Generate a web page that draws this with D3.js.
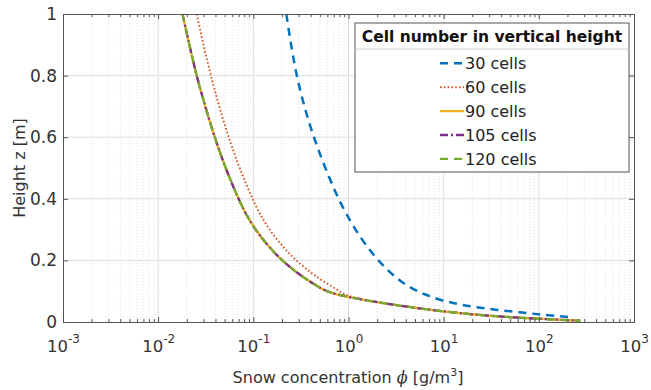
<!DOCTYPE html>
<html>
<head>
<meta charset="utf-8">
<script src="https://cdn.jsdelivr.net/npm/d3@7"></script>
<style>
  html, body { margin: 0; padding: 0; background: #fff; }
  svg { display: block; font-family: "DejaVu Sans", sans-serif; }
</style>
</head>
<body>
<svg id="chart" width="651" height="390"></svg>
<script>
// ---- data ----
const heights   = [1.0, 0.9, 0.8, 0.7, 0.6, 0.5, 0.45, 0.4, 0.35, 0.3, 0.25, 0.2, 0.15, 0.12, 0.1, 0.09, 0.08, 0.07, 0.06, 0.05, 0.04, 0.03, 0.02, 0.015, 0.01, 0.004];
const heights30 = [1.0, 0.9, 0.8, 0.7, 0.6, 0.5, 0.45, 0.4, 0.35, 0.3, 0.25, 0.2, 0.15, 0.12, 0.1, 0.09, 0.08, 0.07, 0.06, 0.05, 0.04, 0.03, 0.02, 0.015];
const phi30  = [0.2223, 0.2495, 0.2864, 0.3443, 0.4335, 0.5715, 0.6676, 0.7889, 0.9539, 1.187, 1.529, 2.064, 3.017, 4.061, 5.353, 6.319, 7.686, 9.784, 13.35, 20.22, 35.14, 70.08, 146.5, 226.8];
const phi60  = [0.02547, 0.02992, 0.03589, 0.04385, 0.05521, 0.07194, 0.08356, 0.09817, 0.1180, 0.1486, 0.1982, 0.2831, 0.4487, 0.631, 0.8035, 0.912, 1.148, 1.603, 2.483, 4.121, 7.161, 13.65, 31.99, 54.33, 110.9, 272.3];
const phi90  = [0.01799, 0.02128, 0.02541, 0.03126, 0.03936, 0.05129, 0.05957, 0.06998, 0.08414, 0.1059, 0.1413, 0.2018, 0.3199, 0.4519, 0.5957, 0.7499, 1.059, 1.567, 2.483, 4.121, 7.161, 13.65, 31.99, 54.33, 110.9, 272.3];
const phi105 = [0.01799, 0.02128, 0.02541, 0.03126, 0.03936, 0.05129, 0.05957, 0.06998, 0.08414, 0.1059, 0.1413, 0.2018, 0.3199, 0.4519, 0.5957, 0.7499, 1.059, 1.567, 2.483, 4.121, 7.161, 13.65, 31.99, 54.33, 110.9, 272.3];
const phi120 = [0.01799, 0.02128, 0.02541, 0.03126, 0.03936, 0.05129, 0.05957, 0.06998, 0.08414, 0.1059, 0.1413, 0.2018, 0.3199, 0.4519, 0.5957, 0.7499, 1.059, 1.567, 2.483, 4.121, 7.161, 13.65, 31.99, 54.33, 110.9, 272.3];
const seriesNames = ["30 cells", "60 cells", "90 cells", "105 cells", "120 cells"];
const xTickExponents = [-3, -2, -1, 0, 1, 2, 3];
const yTicks = [0, 0.2, 0.4, 0.6, 0.8, 1];
const legendTitle = "Cell number in vertical height";

// ---- layout ----
const svg = d3.select("#chart");
const m = { left: 63, right: 634, top: 14, bottom: 322 };
const x = d3.scaleLog().domain([1e-3, 1e3]).range([m.left, m.right]);
const y = d3.scaleLinear().domain([0, 1]).range([m.bottom, m.top]);

const series = [
  { name: seriesNames[0], z: heights30, v: phi30,  color: "#0072BD", dash: "8,6",       width: 2.5 },
  { name: seriesNames[1], z: heights,   v: phi60,  color: "#D95319", dash: "1.6,2.2",   width: 1.9 },
  { name: seriesNames[2], z: heights,   v: phi90,  color: "#EDB120", dash: null,        width: 2.3 },
  { name: seriesNames[3], z: heights,   v: phi105, color: "#7E2F8E", dash: "8,3,2,3",   width: 2.3 },
  { name: seriesNames[4], z: heights,   v: phi120, color: "#77AC30", dash: "8,6",       width: 2.3 }
];

// ---- grid ----
const grid = svg.append("g");
const minorVals = [];
for (let e = -3; e < 3; e++) for (let k = 2; k <= 9; k++) minorVals.push(k * Math.pow(10, e));
grid.selectAll("line.minor").data(minorVals).enter().append("line")
  .attr("x1", d => x(d)).attr("x2", d => x(d)).attr("y1", m.top).attr("y2", m.bottom)
  .attr("stroke", "#e2e2e2").attr("stroke-width", 1).attr("stroke-dasharray", "1,2");
grid.selectAll("line.vmaj").data(xTickExponents.slice(1, -1)).enter().append("line")
  .attr("x1", d => x(Math.pow(10, d))).attr("x2", d => x(Math.pow(10, d)))
  .attr("y1", m.top).attr("y2", m.bottom).attr("stroke", "#dedede").attr("stroke-width", 1);
grid.selectAll("line.hmaj").data(yTicks.slice(1, -1)).enter().append("line")
  .attr("x1", m.left).attr("x2", m.right).attr("y1", d => y(d)).attr("y2", d => y(d))
  .attr("stroke", "#dedede").attr("stroke-width", 1);

// ---- lines ----
svg.append("defs").append("clipPath").attr("id", "clip")
  .append("rect").attr("x", m.left).attr("y", m.top - 2).attr("width", m.right - m.left).attr("height", m.bottom - m.top + 2);
const lineGen = d3.line().x(d => x(d[0])).y(d => y(d[1])).curve(d3.curveMonotoneY);
const lg = svg.append("g").attr("clip-path", "url(#clip)");
series.forEach(s => {
  const pts = s.v.map((v, i) => [v, s.z[i]]);
  lg.append("path").datum(pts).attr("d", lineGen)
    .attr("fill", "none").attr("stroke", s.color).attr("stroke-width", s.width)
    .attr("stroke-dasharray", s.dash);
});

// ---- axes ----
const axisColor = "#555";
const majorX = xTickExponents.map(e => Math.pow(10, e));
const gx = svg.append("g").attr("transform", `translate(0,${m.bottom})`)
  .call(d3.axisBottom(x).tickValues(majorX).tickSize(-5).tickFormat(""));
svg.append("g").attr("transform", `translate(0,${m.top})`)
  .call(d3.axisTop(x).tickValues(majorX).tickSize(-5).tickFormat(""));
svg.append("g").attr("transform", `translate(0,${m.bottom})`)
  .call(d3.axisBottom(x).tickValues(minorVals).tickSize(-3).tickFormat(""));
svg.append("g").attr("transform", `translate(0,${m.top})`)
  .call(d3.axisTop(x).tickValues(minorVals).tickSize(-3).tickFormat(""));
const gy = svg.append("g").attr("transform", `translate(${m.left},0)`)
  .call(d3.axisLeft(y).tickValues(yTicks).tickSize(-5).tickFormat(d3.format("~g")).tickPadding(6));
svg.append("g").attr("transform", `translate(${m.right},0)`)
  .call(d3.axisRight(y).tickValues(yTicks).tickSize(-5).tickFormat(""));
svg.selectAll(".domain").attr("stroke", axisColor).attr("stroke-width", 1);
svg.selectAll(".tick line").attr("stroke", axisColor);
gy.selectAll("text").attr("font-size", 17).attr("fill", "#333").attr("font-family", "DejaVu Sans, sans-serif");

// x tick labels as 10^e
gx.selectAll(".tick").each(function(d) {
  const e = Math.round(Math.log10(d));
  const t = d3.select(this).append("text").attr("y", 30).attr("fill", "#333")
    .attr("text-anchor", "middle").attr("font-size", 16.5).attr("font-family", "DejaVu Sans, sans-serif");
  t.append("tspan").text("10");
  t.append("tspan").attr("dy", -9).attr("font-size", 12).text(String(e));
});

// axis labels
const xl = svg.append("text").attr("x", 348).attr("y", 383).attr("text-anchor", "middle")
  .attr("font-size", 16).attr("fill", "#333");
xl.append("tspan").text("Snow concentration ");
xl.append("tspan").attr("font-style", "italic").attr("font-family", "DejaVu Serif, serif").text("ϕ");
xl.append("tspan").text(" [g/m");
xl.append("tspan").attr("dy", -7).attr("font-size", 11).text("3");
xl.append("tspan").attr("dy", 7).text("]");
svg.append("text").attr("transform", "translate(25,168) rotate(-90)").attr("text-anchor", "middle")
  .attr("font-size", 16).attr("fill", "#333").text("Height z [m]");

// ---- legend ----
const L = { x: 355, y: 23, w: 274, h: 149 };
const leg = svg.append("g");
leg.append("rect").attr("x", L.x).attr("y", L.y).attr("width", L.w).attr("height", L.h)
  .attr("fill", "#fff").attr("stroke", "#555").attr("stroke-width", 1);
leg.append("text").attr("x", L.x + L.w / 2).attr("y", 41.5).attr("text-anchor", "middle")
  .attr("font-size", 15.5).attr("font-weight", "bold").attr("fill", "#111").text(legendTitle);
leg.append("line").attr("x1", L.x).attr("x2", L.x + L.w).attr("y1", 49).attr("y2", 49)
  .attr("stroke", "#d0d0d0").attr("stroke-width", 1);
series.forEach((s, i) => {
  const base = 69.3 + i * 23.9;
  leg.append("line").attr("x1", 440).attr("x2", 464).attr("y1", base - 6).attr("y2", base - 6)
    .attr("stroke", s.color).attr("stroke-width", s.width).attr("stroke-dasharray", s.dash);
  leg.append("text").attr("x", 465).attr("y", base).attr("font-size", 16).attr("fill", "#222").text(s.name);
});
</script>
</body>
</html>
